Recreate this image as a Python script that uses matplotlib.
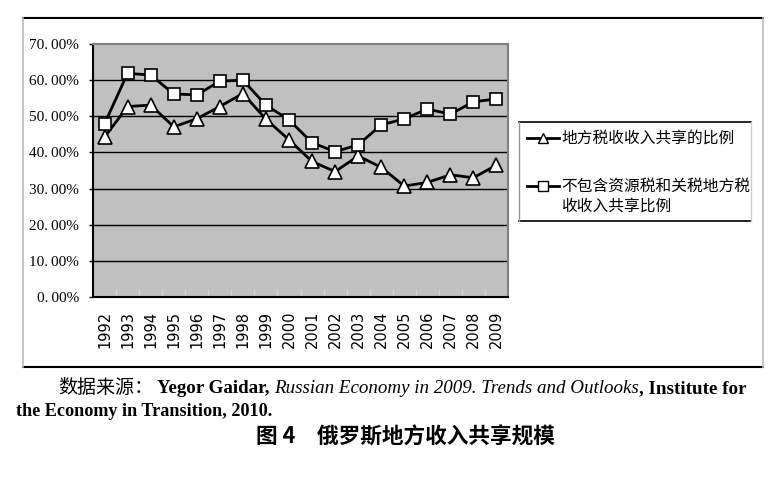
import matplotlib
matplotlib.use("Agg")
import matplotlib.pyplot as plt
from matplotlib.lines import Line2D
from matplotlib.ticker import FixedLocator, FuncFormatter

years = [str(y) for y in range(1992, 2010)]
share_all = [44.2, 52.7, 53.1, 47.1, 49.3, 52.7, 56.3, 49.2, 43.5, 37.5,
             34.7, 39.0, 35.9, 30.7, 31.7, 33.8, 33.0, 36.5]
share_excl = [47.9, 61.9, 61.4, 56.2, 55.9, 59.7, 60.0, 53.1, 49.0, 42.7,
              40.2, 42.1, 47.6, 49.3, 52.0, 50.6, 54.0, 54.8]
yticks = [0, 10, 20, 30, 40, 50, 60, 70]
label_all = "地方税收收入共享的比例"
label_excl = "不包含资源税和关税地方税\n收收入共享比例"
title = "图 4　俄罗斯地方收入共享规模"

W, H = 780, 479
fig = plt.figure(figsize=(W / 100, H / 100), dpi=100)
CJK = ["Noto Sans CJK SC", "DejaVu Sans"]
SERIF = ["Liberation Serif", "DejaVu Serif"]


def fx(px):
    return px / W


def fy(py):
    return 1 - py / H


ax = fig.add_axes([fx(93), fy(297), fx(508) - fx(93), fy(44) - fy(297)])
ax.set_facecolor("#C0C0C0")
xs = [i + 0.5 for i in range(len(years))]
ax.plot(xs, share_all, color="black", lw=2, marker="^", ms=10,
        mfc="white", mec="black", mew=1.2, zorder=4)
ax.plot(xs, share_excl, color="black", lw=2, marker="s", ms=9,
        mfc="white", mec="black", mew=1.2, zorder=5)
ax.set_xlim(0, len(years))
ax.set_ylim(0, 70)
ax.set_yticks(yticks)
ax.yaxis.set_major_formatter(FuncFormatter(lambda v, p: f"{v:.2f}%".replace(".", ".\u2009")))
for v in yticks[1:-1]:
    ax.axhline(v, color="black", lw=1, zorder=2)
ax.tick_params(axis="y", length=3, width=1, color="black", pad=7)
for lab in ax.get_yticklabels():
    lab.set_fontfamily(SERIF)
    lab.set_fontsize(11)

ax.xaxis.set_major_locator(FixedLocator(xs))
ax.set_xticklabels(years, rotation=90, fontfamily="DejaVu Sans", fontsize=10.5)
ax.tick_params(axis="x", which="major", length=0, pad=10)
ax.xaxis.set_minor_locator(FixedLocator(list(range(1, len(years)))))
ax.tick_params(axis="x", which="minor", direction="in", length=6,
               width=1, color="#D4D4D4")

for s in ["left", "bottom"]:
    ax.spines[s].set_color("black")
    ax.spines[s].set_linewidth(1.5)
for s in ["top", "right"]:
    ax.spines[s].set_color("#808080")
    ax.spines[s].set_linewidth(1.5)


def hline(x0, x1, y, color, lw=1.2):
    fig.add_artist(Line2D([fx(x0), fx(x1)], [fy(y), fy(y)], color=color, lw=lw))


def vline(x, y0, y1, color, lw=1.2):
    fig.add_artist(Line2D([fx(x), fx(x)], [fy(y0), fy(y1)], color=color, lw=lw))


# outer chart box
hline(23, 763, 18, "black", 1.5)
hline(23, 763, 367, "black", 1.5)
vline(23, 18, 367, "#BBBBBB", 1.2)
vline(763, 18, 367, "#BBBBBB", 1.2)

# legend box
hline(519, 751, 122, "black", 1.2)
hline(519, 751, 221, "black", 1.2)
vline(519, 122, 221, "#999999", 1.0)
vline(751, 122, 221, "#CCCCCC", 1.0)

for yy, mk, ms in [(138, "^", 7), (186, "s", 6.5)]:
    fig.add_artist(Line2D([fx(527), fx(559)], [fy(yy), fy(yy)], color="black", lw=2))
    fig.add_artist(Line2D([fx(543)], [fy(yy)], marker=mk, ms=ms, mfc="white",
                          mec="black", mew=1.0, color="black"))
fig.text(fx(561), fy(138), label_all, fontfamily=CJK, fontsize=11.3, va="center", ha="left")
fig.text(fx(561), fy(196), label_excl, fontfamily=CJK, fontsize=11.3, va="center",
         ha="left", linespacing=1.2)

# caption
fig.canvas.draw()
renderer = fig.canvas.get_renderer()


def place(pieces, x0, y, size):
    x = x0
    for txt, fam, wt, st in pieces:
        t = fig.text(fx(x), fy(y), txt, fontfamily=fam, fontweight=wt, fontstyle=st,
                     fontsize=size, va="baseline", ha="left")
        bb = t.get_window_extent(renderer=renderer)
        x += bb.width


place([("数据来源：", CJK, "normal", "normal"),
       (" Yegor Gaidar, ", SERIF, "bold", "normal"),
       ("Russian Economy in 2009. Trends and Outlooks", SERIF, "normal", "italic"),
       (", Institute for", SERIF, "bold", "normal")], 58, 393, 13.7)
place([("the Economy in Transition, 2010.", SERIF, "bold", "normal")], 16, 416, 13.1)

fig.text(fx(405), fy(437), title, fontfamily=CJK, fontsize=15.6, fontweight="bold",
         ha="center", va="center")

fig.savefig("out.png", dpi=100)
